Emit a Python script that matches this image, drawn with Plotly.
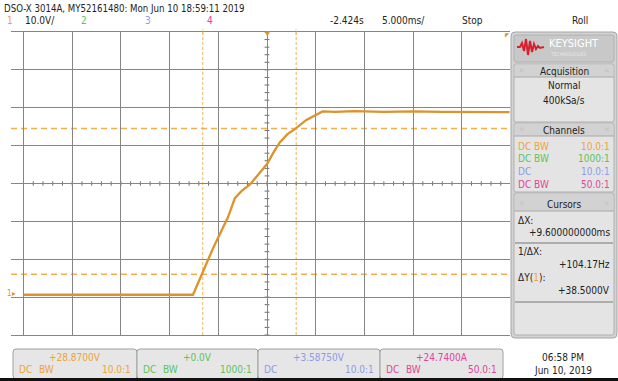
import plotly.graph_objects as go

W, H = 618, 381

# ---------------- data ----------------
time_ms = [-25.0, -20.0, -15.0, -10.0, -7.6, -5.5, -4.0, -3.3, -2.6, -1.75, -0.8, 0.0,
           0.7, 1.33, 2.1, 2.9, 4.0, 5.1, 5.7, 7.0, 9.0, 12.0, 15.0, 18.0, 21.0, 24.9]
volts = [-0.5, -0.5, -0.4, -0.5, -0.5, 12.0, 20.0, 25.0, 26.9, 28.6, 31.5, 34.0,
         37.2, 39.8, 41.9, 43.3, 45.6, 47.2, 47.9, 47.8, 48.0, 47.8, 47.9, 47.8, 47.8, 47.7]

ch1_offset = 28.87        # V (screen centre)
volts_per_div = 10.0
ms_per_div = 5.0
cursor_x = [-6.6, 3.0]    # ms
cursor_y = [4.9, 43.4]    # V

header = "DSO-X 3014A, MY52161480: Mon Jun 10 18:59:11 2019"
status_labels = ["-2.424s", "5.000ms/", "Stop", "Roll"]
channel_nums = ["1", "2", "3", "4"]
channel_colors = ["#EFA33A", "#5DC35D", "#8D9BE6", "#E0449B"]
channel_coupling = ["DC BW", "DC BW", "DC", "DC BW"]
channel_probe = ["10.0:1", "1000:1", "10.0:1", "50.0:1"]
channel_values = ["+28.8700V", "+0.0V", "+3.58750V", "+24.7400A"]
cursor_texts = [("\u0394X:", "+9.600000000ms"), ("1/\u0394X:", "+104.17Hz"), ("\u0394Y(1):", "+38.5000V")]

FONT = "Liberation Sans Narrow, DejaVu Sans Condensed, Arial Narrow, Roboto, sans-serif"
TRACE = "#DD922A"
CUR = "#F3B04A"
CURV = "#F7C47C"

def X(x):
    return x / W

def Y(y):
    return 1 - y / H

# axis geometry (pixels)
gx0, gx1, gy0, gy1 = 11, 510, 32, 335
cx = 267
xr0 = -(cx - gx0) / (48.7 / ms_per_div)
xr1 = (gx1 - cx) / (48.7 / ms_per_div)
yr0 = ch1_offset - 4 * volts_per_div
yr1 = ch1_offset + 4 * volts_per_div

fig = go.Figure()
fig.add_trace(go.Scatter(x=time_ms, y=volts, mode="lines",
                         line=dict(color=TRACE, width=2.3), hoverinfo="skip"))

shapes = []
annotations = []

# cursors
for cxv in cursor_x:
    shapes.append(dict(type="line", xref="x", yref="paper", x0=cxv, x1=cxv, y0=Y(gy1), y1=Y(gy0),
                       line=dict(color=CURV, width=1.3, dash="3px,2px"), layer="below"))
for cyv in cursor_y:
    shapes.append(dict(type="line", xref="paper", yref="y", x0=X(gx0), x1=X(gx1), y0=cyv, y1=cyv,
                       line=dict(color=CUR, width=1.5, dash="6px,4px"), layer="below"))

# minor ticks on centre axes
px_per_ms = 48.7 / ms_per_div
px_per_v = 37.875 / volts_per_div
t = -25.0
while t <= 25.0 + 1e-9:
    shapes.append(dict(type="line", xref="x", yref="y", x0=t, x1=t,
                       y0=ch1_offset - 2.2 / px_per_v, y1=ch1_offset + 2.2 / px_per_v,
                       line=dict(color="#6a6a6a", width=1), layer="below"))
    t += 1.0
v = yr0
while v <= yr1 + 1e-9:
    shapes.append(dict(type="line", xref="x", yref="y", x0=-2.4 / px_per_ms, x1=2.4 / px_per_ms,
                       y0=v, y1=v, line=dict(color="#6a6a6a", width=1), layer="below"))
    v += 2.0


def rrect(x0, y0, x1, y1, r, fill, line="#9c9c9c", lw=1):
    rx, ry = r, r
    p = (f"M {X(x0+rx)},{Y(y0)} L {X(x1-rx)},{Y(y0)} Q {X(x1)},{Y(y0)} {X(x1)},{Y(y0+ry)} "
         f"L {X(x1)},{Y(y1-ry)} Q {X(x1)},{Y(y1)} {X(x1-rx)},{Y(y1)} "
         f"L {X(x0+rx)},{Y(y1)} Q {X(x0)},{Y(y1)} {X(x0)},{Y(y1-ry)} "
         f"L {X(x0)},{Y(y0+ry)} Q {X(x0)},{Y(y0)} {X(x0+rx)},{Y(y0)} Z")
    shapes.append(dict(type="path", xref="paper", yref="paper", path=p, fillcolor=fill,
                       line=dict(color=line, width=lw), layer="above"))


def rect(x0, y0, x1, y1, fill, line=None):
    shapes.append(dict(type="rect", xref="paper", yref="paper", x0=X(x0), x1=X(x1), y0=Y(y1), y1=Y(y0),
                       fillcolor=fill, line=dict(width=0 if line is None else 1, color=line or fill),
                       layer="above"))


def hline(x0, x1, y, color="#8a8a8a", w=1):
    shapes.append(dict(type="line", xref="paper", yref="paper", x0=X(x0), x1=X(x1), y0=Y(y), y1=Y(y),
                       line=dict(color=color, width=w), layer="above"))


def text(x, y, s, color="#222222", size=10, anchor="left"):
    annotations.append(dict(xref="paper", yref="paper", x=X(x), y=Y(y), text=s, showarrow=False,
                            xanchor=anchor, yanchor="middle",
                            font=dict(family=FONT, size=size, color=color)))


# ---------------- right panel ----------------
rrect(511, 32, 617, 338, 4, "#d3d3d3", "#a5a5a5")
rrect(514, 35, 614, 62, 2, "#c8c8c8", "#b0b0b0")
logo = [(517, 47), (520, 47), (522, 43), (524, 51), (526, 39), (528, 55), (530, 41),
        (532, 52), (534, 44), (536, 49), (538, 46), (540, 48), (544, 47)]
logo_path = "M " + " L ".join(f"{X(a)},{Y(b)}" for a, b in logo)
shapes.append(dict(type="path", xref="paper", yref="paper", path=logo_path,
                   line=dict(color="#D8202E", width=2), layer="above"))
text(547, 44, "KEYSIGHT", "#ffffff", 11)
text(548, 54, "TECHNOLOGIES", "#e6e6e6", 5)

# Acquisition
rrect(514, 64, 614, 122, 2, "#e4e4e4", "#b0b0b0")
rect(515, 65, 613, 77, "#d2d2d2")
hline(514, 614, 77, "#a8a8a8")
text(564, 71, "Acquisition", "#222222", 10, "center")
text(517, 71, "\u2059", "#9a9a9a", 7)
text(611, 71, "\u2059", "#9a9a9a", 7, "right")
text(564, 85, "Normal", "#222222", 10, "center")
text(564, 100, "400kSa/s", "#222222", 10, "center")

# Channels
rrect(514, 123, 614, 192, 2, "#e4e4e4", "#b0b0b0")
rect(515, 124, 613, 136, "#d2d2d2")
hline(514, 614, 136, "#a8a8a8")
text(564, 130, "Channels", "#222222", 10, "center")
text(517, 130, "\u2059", "#9a9a9a", 7)
text(611, 130, "\u2059", "#9a9a9a", 7, "right")
for i, yy in enumerate([146, 159, 172, 185]):
    text(516, yy, channel_coupling[i], channel_colors[i], 10)
    text(612, yy, channel_probe[i], channel_colors[i], 10, "right")

# Cursors
rrect(514, 193, 614, 335, 2, "#e4e4e4", "#b0b0b0")
rect(515, 194, 613, 211, "#d2d2d2")
hline(514, 614, 211, "#a8a8a8")
text(564, 204, "Cursors", "#222222", 10, "center")
text(517, 204, "\u2059", "#9a9a9a", 7)
text(611, 204, "\u2059", "#9a9a9a", 7, "right")
text(516, 220, cursor_texts[0][0], "#222222", 10)
text(612, 233, cursor_texts[0][1], "#222222", 10, "right")
hline(515, 613, 243, "#777777")
text(516, 251, cursor_texts[1][0], "#222222", 10)
text(612, 264, cursor_texts[1][1], "#222222", 10, "right")
annotations.append(dict(xref="paper", yref="paper", x=X(516), y=Y(277), showarrow=False,
                        xanchor="left", yanchor="middle",
                        text="\u0394Y(<span style='color:#EFA33A'>1</span>):",
                        font=dict(family=FONT, size=10, color="#222222")))
text(612, 290, cursor_texts[2][1], "#222222", 10, "right")
hline(515, 613, 302, "#777777")

# ---------------- bottom channel boxes ----------------
box_edges = [13, 137, 258, 380, 503]
for i in range(4):
    rrect(box_edges[i], 349, box_edges[i + 1], 379, 3, "#e6e6e6", "#a0a0a0")
    mid = (box_edges[i] + box_edges[i + 1]) / 2
    text(mid, 357, channel_values[i], channel_colors[i], 10, "center")
    parts = channel_coupling[i].split(" ")
    text(box_edges[i] + 4, 369, parts[0], channel_colors[i], 10)
    if len(parts) > 1:
        text(box_edges[i] + 24, 369, parts[1], channel_colors[i], 10)
    text(box_edges[i + 1] - 4, 369, channel_probe[i], channel_colors[i], 10, "right")
rect(0, 378, 618, 381, "#111111")
text(563, 357, "06:58 PM", "#222222", 10, "center")
text(563, 370, "Jun 10, 2019", "#222222", 10, "center")

# ---------------- top status lines ----------------
text(2, 8, header, "#222222", 9.6)
text(5, 20, channel_nums[0], channel_colors[0], 10)
text(23, 20, "10.0V/", "#222222", 10)
text(79, 20, channel_nums[1], channel_colors[1], 10)
text(143, 20, channel_nums[2], channel_colors[2], 10)
text(205, 20, channel_nums[3], channel_colors[3], 10)
for s, xx in zip(status_labels, [347, 403, 472, 580]):
    text(xx, 20, s, "#222222", 10, "center")

# markers on the graticule
text(267, 34, "\u25bc", TRACE, 7, "center")
text(203, 32, "|", CUR, 7, "center")
text(296, 32, "|", CUR, 7, "center")
text(9, 293, "1", TRACE, 8, "center")
text(14, 293, "\u25b8", TRACE, 8, "center")
text(507, 34, "\u25e4", TRACE, 6, "center")

fig.update_layout(
    width=W, height=H, margin=dict(l=0, r=0, t=0, b=0),
    paper_bgcolor="white", plot_bgcolor="white", showlegend=False,
    shapes=shapes, annotations=annotations,
    xaxis=dict(domain=[X(gx0), X(gx1)], range=[xr0, xr1], tickmode="linear", tick0=-25, dtick=ms_per_div,
               showgrid=True, gridcolor="#858585", gridwidth=1.4, zeroline=False,
               showticklabels=False, ticks="", showline=True, mirror=True, linecolor="#858585",
               linewidth=1.4, fixedrange=True),
    yaxis=dict(domain=[Y(gy1), Y(gy0)], range=[yr0, yr1], tickmode="linear", tick0=ch1_offset,
               dtick=volts_per_div, showgrid=True, gridcolor="#858585", gridwidth=1.4, zeroline=False,
               showticklabels=False, ticks="", showline=False, fixedrange=True),
)

fig.write_html("out.html")
